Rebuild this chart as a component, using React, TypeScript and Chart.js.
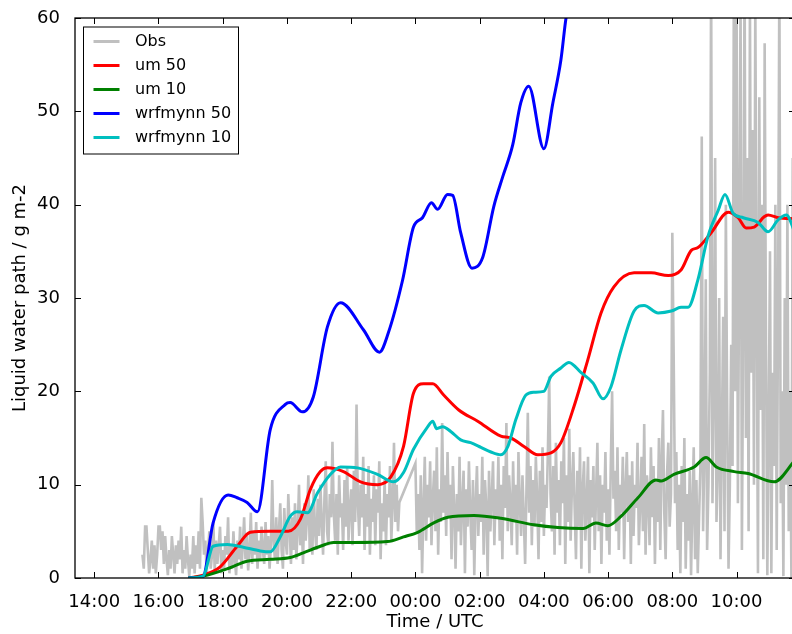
import React, { useEffect, useRef } from "react";
import { Chart, registerables } from "chart.js";

Chart.register(...registerables);

// x axis: hours since 00:00 of the first day (24 = 00:00 next day)
const X_MIN = 13.4;
const X_MAX = 35.82;
const Y_MIN = 0;
const Y_MAX = 60;

const seriesLabels = ["Obs", "um 50", "um 10", "wrfmynn 50", "wrfmynn 10"];
const seriesColors = ["#c0c0c0", "#ff0000", "#008000", "#0000ff", "#00bfbf"];

// Observations: samples every 2.5 minutes starting 15:30 (one row = 30 min)
const obsStartHour = 15.5;
const obsStepMinutes = 2.5;
const obsValues: (number | null)[] = [
  2.5, 1.0, 5.5, 5.5, 3.0, 0.5, 2.0, 4.0, 1.0, 3.5, 0.5, 2.5,
  5.5, 5.5, 3.0, 5.0, 1.5, 4.5, 2.0, 0.3, 3.0, 1.0, 4.5, 2.5,
  0.5, 3.5, 1.5, 4.0, 2.0, 5.5, 0.5, 3.0, 1.0, 4.5, 2.0, 0.2,
  2.5, 1.0, 4.5, 0.5, 3.5, 1.5, 5.0, 1.0, 8.6, 6.0, 2.5, 4.0,
  0.5, 3.0, 5.0, 1.0, 2.5, 6.0, 0.8, 4.0, 1.5, 3.5, 5.5, 0.5,
  3.0, 1.0, 4.5, 2.5, 6.5, 0.5, 3.5, 1.0, 5.0, 2.0, 0.3, 4.0,
  2.0, 5.5, 1.0, 3.5, 6.5, 2.0, 4.5, 0.8, 3.0, 7.0, 1.5, 5.0,
  2.5, 6.0, 1.0, 4.0, 2.0, 5.5, 3.0, 1.5, 6.0, 2.5, 4.5, 1.0,
  3.5, 10.5, 4.0, 2.0, 6.5, 1.5, 5.0, 8.0, 3.0, 1.0, 7.5, 4.0,
  2.5, 9.0, 5.5, 1.5, 6.5, 3.0, 8.0, 2.0, 5.0, 10.0, 3.5, 6.5,
  1.5, 8.0, 4.0, 6.5, 11.0, 3.0, 7.5, 2.5, 9.5, 5.0, 3.0, 8.5,
  4.5, 10.0, 6.0, 2.5, 8.5, 12.5, 5.0, 3.5, 9.0, 6.5, 14.6, 7.0,
  4.0, 9.0, 2.5, 11.0, 6.5, 8.0, 3.0, 10.5, 5.5, 12.0, 4.0, 7.5,
  9.5, 3.5, 11.5, 6.0, 18.6, 8.0, 4.5, 10.0, 6.5, 13.0, 3.0, 9.0,
  5.5, 12.0, 2.5, 8.5, 6.0, 11.0, 3.5, 9.5, 7.0, 12.5, 2.0, 8.0,
  5.0, 10.5, 3.5, 9.0, 6.5, 12.0, 4.0, 8.0, 14.5, 6.0, 10.0, 5.0,
  8.1, null, null, null, null, null, null, null, null, null, null, null,
  12.3, 5.0, 9.0, 3.0, 11.0, 0.5, 7.5, 13.0, 4.0, 10.0, 6.5, 12.5,
  3.5, 8.5, 11.5, 5.0, 14.0, 2.5, 9.5, 6.0, 16.6, 7.0, 11.0, 4.5,
  13.5, 6.5, 10.0, 2.0, 12.0, 7.5, 1.0, 9.0, 5.0, 13.0, 3.5, 8.0,
  11.5, 0.5, 9.5, 5.5, 12.5, 7.0, 3.0, 10.5, 0.3, 8.0, 12.0, 4.5,
  9.0, 6.0, 13.0, 2.5, 10.5, 7.5, 0.2, 11.5, 5.0, 8.5, 12.5, 3.5,
  9.5, 6.5, 13.0, 4.0, 10.0, 2.0, 12.0, 7.5, 16.6, 5.0, 11.0, 8.0,
  3.5, 12.5, 6.0, 10.0, 2.5, 13.5, 8.0, 4.5, 11.0, 6.5, 1.5, 9.5,
  17.7, 7.0, 12.0, 3.5, 10.5, 5.5, 13.0, 8.5, 2.0, 11.5, 6.0, 14.0,
  4.5, 10.0, 7.5, 13.5, 21.6, 9.0, 5.0, 12.0, 2.5, 14.5, 7.0, 10.5,
  3.5, 12.5, 8.0, 15.0, 1.5, 11.0, 6.0, 16.0, 4.0, 10.0, 13.5, 7.5,
  2.0, 11.5, 5.5, 14.0, 1.0, 9.5, 12.5, 4.0, 8.0, 13.0, 0.5, 10.5,
  6.5, 12.0, 3.0, 9.0, 14.5, 5.0, 11.0, 1.5, 10.0, 7.0, 13.5, 4.0,
  9.5, 2.5, 12.0, 20.0, 8.5, 11.5, 5.0, 14.0, 3.0, 10.0, 7.0, 13.0,
  2.0, 9.5, 13.5, 6.0, 11.0, 1.5, 12.5, 4.5, 10.0, 7.5, 14.5, 3.5,
  8.0, 13.0, 5.0, 16.5, 2.5, 11.0, 9.0, 3.5, 14.0, 6.5, 12.0, 1.5,
  10.5, 6.0, 15.0, 3.0, 12.5, 18.0, 7.0, 2.0, 11.0, 14.5, 5.5, 9.0,
  37.0, 24.0, 8.0, 13.5, 3.0, 10.0, 0.5, 12.0, 6.0, 15.0, 1.0, 9.0,
  4.0, 11.5, 0.3, 8.0, 14.0, 2.0, 10.5, 0.5, 6.5, 12.0, 47.3, 5.0,
  14.0, 32.0, 3.0, 10.0, 22.0, 65.0, 8.0, 20.0, 45.0, 6.0, 12.0, 30.0,
  2.0, 15.0, 28.0, 5.0, 40.0, 18.0, 1.0, 10.0, 25.0, 12.0, 65.0, 20.0,
  65.0, 8.0, 35.0, 62.0, 3.0, 28.0, 66.0, 15.0, 45.0, 5.0, 62.0, 22.0,
  48.0, 10.0, 62.0, 30.0, 0.5, 51.5, 18.0, 40.0, 2.0, 57.3, 25.0, 0.3,
  16.6, 35.0, 0.5, 22.0, 12.0, 40.0, 3.0, 28.0, 65.0, 8.0, 20.0, 0.2,
  30.0, 10.0, 40.0, 5.0, 20.0, 0.0, 45.0, 25.0,
];

const um50Hours = [
  16.93, 17.39, 17.92, 18.45, 18.86, 19.48, 20.04, 20.42, 20.73, 21.04, 21.26,
  21.76, 22.29, 22.82, 23.23, 23.63, 23.94, 24.25, 24.54, 24.88, 25.35, 25.94,
  26.66, 26.97, 27.38, 27.81, 28.22, 28.53, 28.94, 29.37, 29.78, 30.18, 30.81,
  31.34, 31.87, 32.27, 32.59, 32.8, 33.21, 33.74, 34.05, 34.3, 34.55, 34.86,
  34.98, 35.3, 35.82,
];
const um50Values = [
  0, 0.3, 1.2, 3.4, 4.9, 5.0, 5.0, 6.3, 9.5, 11.4, 11.8,
  11.4, 10.3, 10.0, 10.8, 14.1, 19.8, 20.8, 20.8, 19.6, 18.0, 16.8,
  15.2, 15.0, 14.1, 13.2, 13.4, 14.5, 18.4, 23.4, 28.4, 31.2, 32.7,
  32.7, 32.4, 33.0, 35.1, 35.4, 37.0, 39.2, 38.6, 37.5, 37.6, 38.7,
  38.9, 38.6, 38.5,
];

const um10Hours = [
  16.93, 17.39, 18.23, 18.76, 19.48, 20.1, 20.51, 21.04, 21.45, 22.07, 23.13,
  23.63, 24.07, 24.57, 25.01, 25.82, 26.66, 27.69, 28.44, 29.22, 29.62, 29.99,
  30.4, 30.93, 31.49, 31.65, 32.05, 32.68, 33.05, 33.37, 33.93, 34.36, 35.17,
  35.82,
];
const um10Values = [
  0, 0.2, 1.1, 1.8, 2.0, 2.2, 2.7, 3.4, 3.8, 3.8, 3.9,
  4.4, 4.9, 5.9, 6.5, 6.7, 6.4, 5.7, 5.4, 5.3, 5.9, 5.6,
  6.6, 8.6, 10.5, 10.4, 11.1, 11.9, 12.9, 11.9, 11.4, 11.2, 10.3,
  12.6,
];

const wrf50Hours = [
  16.93, 17.39, 17.7, 18.17, 18.45, 18.76, 19.08, 19.48, 19.95, 20.1, 20.48,
  20.82, 21.26, 21.67, 22.38, 22.88, 23.16, 23.6, 23.94, 24.22, 24.5, 24.69,
  25.0, 25.16, 25.41, 25.76, 26.1, 26.44, 26.72, 27.03, 27.28, 27.53, 28.0,
  28.28, 28.53, 28.69, 29.0,
];
const wrf50Values = [
  0, 0.2, 5.9, 8.9, 8.6, 8.1, 7.1, 15.9, 18.6, 18.8, 17.8,
  19.4, 26.9, 29.5, 26.6, 24.2, 26.3, 31.9, 37.6, 38.6, 40.2, 39.5,
  41.1, 41.0, 37.0, 33.2, 34.4, 39.8, 43.0, 46.4, 50.9, 52.7, 46.0,
  50.9, 55.5, 60.0, 65.0,
];

const wrf10Hours = [
  16.93, 17.39, 17.7, 18.14, 18.64, 19.17, 19.48, 19.79, 20.1, 20.32, 20.64,
  20.95, 21.35, 21.67, 22.2, 22.82, 23.32, 23.63, 23.94, 24.38, 24.54, 24.66,
  24.85, 25.1, 25.41, 25.72, 26.04, 26.35, 26.66, 26.88, 27.13, 27.44, 27.69,
  28.0, 28.22, 28.53, 28.78, 29.16, 29.53, 29.84, 30.09, 30.4, 30.81, 31.12,
  31.56, 31.97, 32.27, 32.49, 32.8, 33.11, 33.43, 33.64, 33.89, 34.21, 34.67,
  34.98, 35.3, 35.55, 35.82,
];
const wrf10Values = [
  0, 0.2, 3.4, 3.6, 3.3, 2.9, 2.8, 4.4, 6.6, 7.1, 7.0,
  9.1, 11.1, 11.9, 11.8, 11.1, 10.3, 11.3, 13.8, 16.2, 16.8, 16.0,
  16.2, 15.7, 14.8, 14.5, 14.0, 13.5, 13.2, 14.1, 17.0, 19.6, 19.9,
  20.0, 21.6, 22.5, 23.1, 22.0, 20.9, 19.2, 20.5, 24.4, 28.6, 29.2,
  28.4, 28.6, 29.0, 29.0, 32.0, 36.6, 39.4, 41.1, 39.1, 38.6, 38.1,
  37.1, 38.4, 38.9, 37.0,
];

const xAxisTitle = "Time / UTC";
const yAxisTitle = "Liquid water path / g m-2";

const FONT = '"DejaVu Sans", "Liberation Sans", sans-serif';

function pairs(xs: number[], ys: (number | null)[]) {
  return xs.map((x, i) => ({ x, y: ys[i] }));
}

function hourLabel(v: number) {
  const h = ((Math.round(v) % 24) + 24) % 24;
  return `${String(h).padStart(2, "0")}:00`;
}

const framePlugin = {
  id: "mplFrame",
  afterDatasetsDraw(chart: any) {
    const { ctx, chartArea: a, scales } = chart;
    const xs = scales.x;
    const ys = scales.y;
    ctx.save();
    ctx.strokeStyle = "#000";
    ctx.lineWidth = 1;
    ctx.beginPath();
    for (const t of xs.ticks) {
      const px = Math.round(xs.getPixelForValue(t.value)) + 0.5;
      ctx.moveTo(px, a.bottom);
      ctx.lineTo(px, a.bottom - 6);
      ctx.moveTo(px, a.top);
      ctx.lineTo(px, a.top + 6);
    }
    for (const t of ys.ticks) {
      const py = Math.round(ys.getPixelForValue(t.value)) + 0.5;
      ctx.moveTo(a.left, py);
      ctx.lineTo(a.left + 6, py);
      ctx.moveTo(a.right, py);
      ctx.lineTo(a.right - 6, py);
    }
    ctx.stroke();
    ctx.lineWidth = 1.3;
    ctx.strokeRect(a.left, a.top, a.right - a.left, a.bottom - a.top);

    // legend (upper left, inside the axes)
    const bx = a.left + 8.5;
    const by = a.top + 9;
    const bw = 155;
    const bh = 127;
    ctx.fillStyle = "#fff";
    ctx.fillRect(bx, by, bw, bh);
    ctx.lineWidth = 1;
    ctx.strokeRect(bx, by, bw, bh);
    ctx.font = `16px ${FONT}`;
    ctx.textBaseline = "middle";
    ctx.textAlign = "left";
    seriesLabels.forEach((label, i) => {
      const cy = by + 14.5 + i * 24;
      ctx.strokeStyle = seriesColors[i];
      ctx.lineWidth = 3;
      ctx.beginPath();
      ctx.moveTo(bx + 10, cy);
      ctx.lineTo(bx + 36, cy);
      ctx.stroke();
      ctx.fillStyle = "#000";
      ctx.fillText(label, bx + 51.5, cy + 0.5);
    });
    ctx.restore();
  },
};

export default function App() {
  const canvasRef = useRef<HTMLCanvasElement | null>(null);

  useEffect(() => {
    if (!canvasRef.current) return;
    const obsData = obsValues.map((v, i) => ({
      x: obsStartHour + (i * obsStepMinutes) / 60,
      y: v,
    }));
    const lineDs = (i: number, data: any[], order: number) => ({
      label: seriesLabels[i],
      data,
      borderColor: seriesColors[i],
      backgroundColor: seriesColors[i],
      borderWidth: 3,
      pointRadius: 0,
      cubicInterpolationMode: "monotone" as const,
      order,
    });
    const chart = new Chart(canvasRef.current, {
      type: "line",
      data: {
        datasets: [
          {
            label: seriesLabels[0],
            data: obsData,
            borderColor: seriesColors[0],
            backgroundColor: seriesColors[0],
            borderWidth: 2.6,
            pointRadius: 0,
            tension: 0,
            spanGaps: true,
            order: 10,
          },
          lineDs(1, pairs(um50Hours, um50Values), 4),
          lineDs(2, pairs(um10Hours, um10Values), 3),
          lineDs(3, pairs(wrf50Hours, wrf50Values), 2),
          lineDs(4, pairs(wrf10Hours, wrf10Values), 1),
        ],
      },
      options: {
        responsive: false,
        animation: false,
        devicePixelRatio: 1,
        layout: { padding: { top: 18, right: 2, left: 0, bottom: 0 } },
        plugins: {
          legend: { display: false },
          tooltip: { enabled: false },
        },
        scales: {
          x: {
            type: "linear",
            min: X_MIN,
            max: X_MAX,
            grid: { display: false },
            border: { display: false },
            ticks: {
              stepSize: 2,
              includeBounds: false,
              autoSkip: false,
              maxRotation: 0,
              padding: 6,
              color: "#000",
              font: { family: FONT, size: 18 },
              callback: (v: any) => hourLabel(Number(v)),
            },
            title: {
              display: true,
              text: xAxisTitle,
              color: "#000",
              font: { family: FONT, size: 18 },
              padding: { top: 0, bottom: 1 },
            },
            afterFit: (s: any) => {
              s.height = 56;
            },
          },
          y: {
            type: "linear",
            min: Y_MIN,
            max: Y_MAX,
            grid: { display: false },
            border: { display: false },
            ticks: {
              stepSize: 10,
              padding: 7,
              color: "#000",
              font: { family: FONT, size: 18 },
            },
            title: {
              display: true,
              text: yAxisTitle,
              color: "#000",
              font: { family: FONT, size: 18 },
              padding: { top: 10, bottom: 0 },
            },
            afterFit: (s: any) => {
              s.width = 75;
            },
          },
        },
      },
      plugins: [framePlugin],
    });
    return () => chart.destroy();
  }, []);

  return (
    <div
      style={{
        position: "fixed",
        left: 0,
        top: 0,
        width: 792,
        height: 634,
        overflow: "hidden",
        background: "#fff",
      }}
    >
      <canvas
        ref={canvasRef}
        width={797}
        height={634}
        style={{ display: "block", width: 797, height: 634 }}
      />
    </div>
  );
}
